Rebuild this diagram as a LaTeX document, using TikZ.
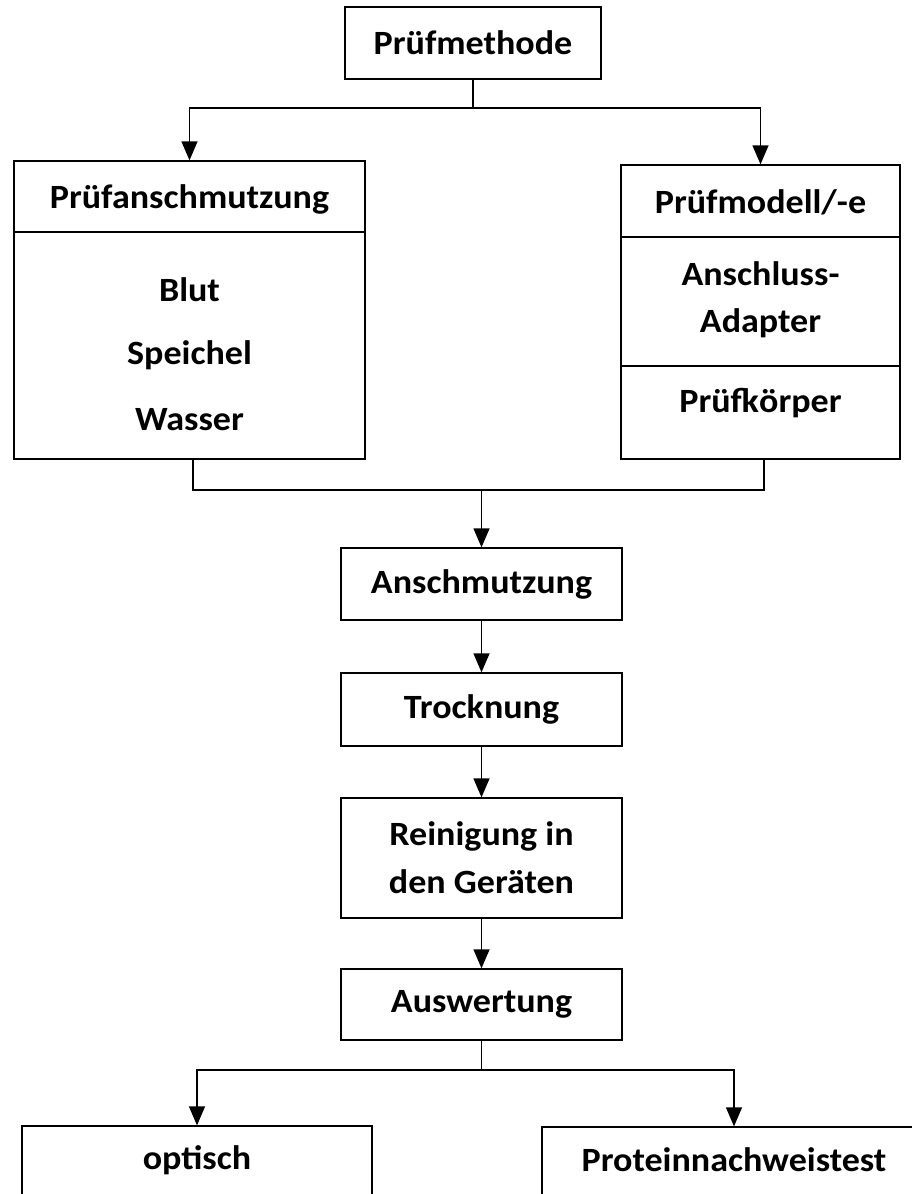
\documentclass[tikz,border=0pt]{standalone}
\usepackage{fontspec}
\setmainfont{Carlito}[FakeStretch=1.06]
\usetikzlibrary{arrows.meta}
\begin{document}
\begin{tikzpicture}[x=1pt,y=-1pt,
  every node/.style={font=\fontsize{34}{48}\selectfont\bfseries, inner sep=0pt, align=center},
  box/.style={draw, line width=1.3pt, minimum width=281pt},
  lbl/.style={},
  conn/.style={line width=1.3pt},
  arr/.style={line width=1.3pt, -{Triangle[width=16pt,length=19pt]}}]
\clip (0,0) rectangle (912,1194);
\fill[white] (0,0) rectangle (912,1194);
% top
\node[box, minimum width=256pt, minimum height=72pt] (pm) at (473,43) {Prüfmethode};
% left box
\node[box, minimum width=351pt, minimum height=298pt] (lb) at (189.5,310) {};
\draw[conn] (lb.west |- 0,232) -- (lb.east |- 0,232);
\node[lbl] (lt) at (189.5,199) {Prüfanschmutzung};
\node[lbl] (l1) at (189.5,290) {Blut};
\node[lbl] (l2) at (189.5,355) {Speichel};
\node[lbl] (l3) at (189.5,420) {Wasser};
% right box
\node[box, minimum width=279pt, minimum height=294pt] (rb) at (760.5,312) {};
\draw[conn] (rb.west |- 0,237) -- (rb.east |- 0,237);
\draw[conn] (rb.west |- 0,366) -- (rb.east |- 0,366);
\node[lbl] (rt) at (760.5,202) {Prüfmodell/-e};
\node[lbl] (r1) at (760.5,274) {Anschluss-};
\node[lbl] (r2) at (760.5,323) {Adapter};
\node[lbl] (r3) at (760.5,403) {Prüfkörper};
% column
\node[box, minimum height=72pt] (an) at (481.5,584) {Anschmutzung};
\node[box, minimum height=73pt] (tr) at (481.5,709.5) {Trocknung};
\node[box, minimum height=120pt] (re) at (481.5,858) {Reinigung in\\den Geräten};
\node[box, minimum height=71pt] (au) at (481.5,1004.5) {Auswertung};
% bottom boxes
\node[box, minimum width=350pt, minimum height=80pt] (op) at (197,1166) {};
\node[lbl] (opt) at (197,1160) {optisch};
\node[box, minimum width=384pt, minimum height=80pt] (pr) at (734,1167) {};
\node[lbl] (prt) at (734,1160) {Proteinnachweistest};
% connectors
\coordinate (j1) at (473,108);
\draw[conn] (pm.south) -- (j1);
\draw[arr] (j1) -| (lb.north);
\draw[arr] (j1) -| (rb.north);
\coordinate (j2) at (481.5,490);
\draw[conn] ([xshift=3.5pt]lb.south) |- (j2) -| ([xshift=3.5pt]rb.south);
\draw[arr] (j2) -- (an.north);
\draw[arr] (an) -- (tr);
\draw[arr] (tr) -- (re);
\draw[arr] (re) -- (au);
\coordinate (j3) at (481.5,1070);
\draw[conn] (au.south) -- (j3);
\draw[arr] (j3) -| (op.north);
\draw[arr] (j3) -| (pr.north);
\end{tikzpicture}
\end{document}
